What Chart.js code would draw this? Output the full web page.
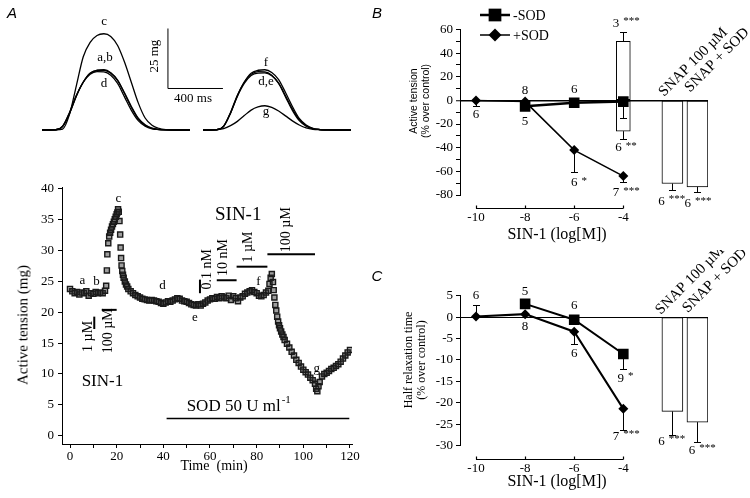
<!DOCTYPE html>
<html>
<head>
<meta charset="utf-8">
<title>SIN-1, SOD and twitch tension</title>
<script src="https://cdn.jsdelivr.net/npm/chart.js@4.4.1/dist/chart.umd.min.js"></script>
<style>
  html, body { margin: 0; padding: 0; background: #fff; }
  #fig { position: relative; width: 750px; height: 498px; overflow: hidden; color: #000;
         font-family: "Liberation Serif", "DejaVu Serif", serif; }
  #fig canvas { position: absolute; }
  .lbl { position: absolute; white-space: nowrap; line-height: 1; transform: translate(-50%, -50%); }
  .up { transform: translate(-50%, -50%) rotate(-90deg); }
  .panel { font: italic 15px "Liberation Sans", Arial, sans-serif; }
  .sans { font-family: "Liberation Sans", Arial, sans-serif; font-size: 10.5px; }
</style>
</head>
<body>
<div id="fig">
  <canvas id="traces" width="370" height="150" style="left:0px;top:0px"></canvas>
  <canvas id="tension" width="370" height="310" style="left:0px;top:170px"></canvas>
  <canvas id="panelB" width="380" height="250" style="left:370px;top:0px"></canvas>
  <canvas id="panelC" width="380" height="248" style="left:370px;top:250px"></canvas>

  <div class="lbl panel" style="left:12px;top:12px">A</div>
  <div class="lbl panel" style="left:377px;top:12px">B</div>
  <div class="lbl panel" style="left:377px;top:275px">C</div>

  <div class="lbl up" style="left:23px;top:325px;font-size:15px">Active tension (mg)</div>
  <div class="lbl" style="left:214px;top:466px;font-size:14px">Time&nbsp; (min)</div>

  <div class="lbl up sans" style="left:413px;top:101px">Active tension</div>
  <div class="lbl up sans" style="left:425px;top:101px">(% over control)</div>
  <div class="lbl" style="left:557px;top:234px;font-size:16px">SIN-1 (log[M])</div>

  <div class="lbl up" style="left:408px;top:360px;font-size:12px">Half relaxation time</div>
  <div class="lbl up" style="left:421px;top:360px;font-size:12px">(% over control)</div>
  <div class="lbl" style="left:557px;top:481px;font-size:16px">SIN-1 (log[M])</div>
</div>

<script>
// ---------- data ----------

// twitch records (mg), all sampled at the same times after the stimulus (ms)
const twitchTimeMs = [0, 100, 150, 200, 250, 300, 350, 400, 450, 500, 550, 600, 650, 700, 750, 800, 850, 900, 1000, 1076];
const twitchA = [0, 0.1, 1.5, 7.0, 14.3, 20.0, 23.7, 24.9, 25.1, 23.9, 20.8, 15.2, 9.4, 4.6, 2.0, 0.7, 0.2, 0.1, 0, 0];
const twitchB = [0, 0.1, 1.4, 6.8, 14.1, 19.9, 23.6, 24.8, 24.9, 23.7, 20.6, 15.5, 9.8, 4.9, 2.2, 0.8, 0.3, 0.1, 0, 0];
const twitchC = [0, 0.1, 0.4, 6.5, 18.5, 30.5, 36.5, 39.4, 40.1, 39.0, 35.2, 28.3, 19.8, 11.3, 5.0, 2.0, 0.7, 0.2, 0, 0];
const twitchD = [0, 0.1, 1.6, 7.3, 14.5, 19.9, 23.2, 24.3, 24.2, 22.8, 19.4, 13.8, 8.2, 3.9, 1.6, 0.5, 0.2, 0.1, 0, 0];
const twitchE = [0, 0.1, 1.5, 7.0, 14.0, 19.4, 22.7, 23.7, 23.8, 22.6, 19.5, 14.3, 8.8, 4.3, 1.8, 0.6, 0.2, 0.1, 0, 0];
const twitchF = [0, 0.1, 1.5, 7.0, 14.3, 20.0, 23.7, 24.9, 25.1, 24.0, 21.0, 15.6, 9.8, 4.8, 2.1, 0.7, 0.2, 0.1, 0, 0];
const twitchG = [0, 0.2, 0.6, 1.8, 3.6, 6.0, 8.3, 9.6, 10.1, 9.4, 7.9, 5.9, 3.8, 2.1, 0.9, 0.3, 0.1, 0, 0, 0];

// active tension during the experiment
const tensionTimeMin = [0, 1, 2, 3, 4, 5, 6, 7, 8, 9, 10, 11, 12, 13, 14, 15, 15.5, 15.8, 16, 16.4, 16.8, 17.2, 17.6,
  18, 18.4, 18.8, 19.2, 19.6, 20, 20.3, 20.6, 20.9, 21.2, 21.5, 21.7, 21.9, 22.1, 22.4, 22.7, 23, 23.5, 24, 24.5, 25,
  26, 27, 28, 29, 30, 31, 32, 33, 34, 35, 36, 37, 38, 39, 40, 41, 42, 43, 44, 45, 46, 47, 48, 49, 50, 51, 52, 53, 54,
  55, 56, 57, 58, 59, 60, 61, 62, 63, 64, 65, 66, 67, 68, 69, 70, 71, 72, 73, 74, 75, 76, 77, 78, 79, 80, 81, 82, 83,
  84, 85, 85.5, 86, 86.5, 87, 87.3, 87.6, 88, 88.4, 88.8, 89.2, 89.6, 90, 90.5, 91, 91.5, 92, 93, 94, 95, 96, 97, 98,
  99, 100, 101, 102, 103, 104, 105, 105.5, 106, 106.5, 107, 108, 109, 110, 111, 112, 113, 114, 115, 116, 117, 118, 119, 120];
const tensionMg = [23.8, 23.4, 23.1, 23.3, 22.9, 23.2, 23.1, 23.4, 22.7, 23.1, 23.0, 23.3, 23.1, 23.2, 23.1, 23.5, 24.3, 26.8, 29.4, 31.2, 32.3, 32.9, 33.4,
  33.9, 34.3, 34.7, 35.1, 35.5, 35.9, 36.2, 36.7, 36.3, 34.8, 32.6, 30.5, 28.8, 27.6, 26.7, 26.1, 25.6, 25.0, 24.5, 24.2, 23.8,
  23.4, 23.1, 22.8, 22.6, 22.4, 22.2, 22.1, 22.0, 21.9, 22.0, 21.9, 21.8, 21.7, 21.5, 21.4, 21.6, 21.8, 21.7, 21.9, 22.1, 22.3, 22.2, 21.9, 21.8, 21.7, 21.5, 21.3, 21.2, 21.1,
  21.3, 21.1, 21.4, 21.6, 21.9, 22.1, 22.3, 22.2, 22.5, 22.3, 22.6, 22.4, 22.3, 22.7, 22.0, 22.6, 22.3, 21.8, 22.4, 22.6, 23.0, 23.2, 23.4, 23.6, 23.3, 23.1, 22.7, 22.6, 22.8,
  23.2, 23.5, 24.6, 25.6, 26.2, 24.9, 23.6, 22.4, 21.2, 20.3, 19.3, 18.5, 17.9, 17.4, 16.9, 16.4, 16.0, 15.5, 14.9, 14.3, 13.6, 13.0, 12.3, 11.8,
  11.2, 10.7, 10.3, 9.9, 9.4, 9.0, 8.4, 7.6, 7.2, 8.0, 8.7, 9.6, 10.0, 10.2, 10.5, 10.8, 11.0, 11.3, 11.6, 12.0, 12.5, 13.0, 13.5, 13.9];
const timeTicks = [0, 10, 20, 30, 40, 50, 60, 70, 80, 90, 100, 110, 120];
const tensionTicks = [0, 5, 10, 15, 20, 25, 30, 35, 40];

// dose-response, SIN-1 log concentration
const logConc = [-10, -8, -6, -4];
const tensionNoSod = [null, -5, -2, -1];
const tensionNoSodErr = [0, 0, 0, -13.6];
const tensionSod = [0, -1, -42, -64];
const tensionSodErr = [-5, 0, -18.4, -5];
const highDoseSplit = [50, -26];          // 100 uM without SOD, n = 3 up and n = 6 down
const highDoseSplitErr = [8, -7];
const snapNames = ['SNAP 100 \u00b5M', 'SNAP + SOD'];
const snapTension = [-70.3, -73.1];
const snapTensionErr = [-5.6, -4.2];
const tensionPctTicks = [-80, -70, -60, -50, -40, -30, -20, -10, 0, 10, 20, 30, 40, 50, 60];

const relaxNoSod = [null, 3.1, -0.6, -8.6];
const relaxNoSodErr = [0, 0, 0, -3.5];
const relaxSod = [0.15, 0.7, -3.4, -21.4];
const relaxSodErr = [2.7, 0, -2.9, -4.9];
const snapRelax = [-22, -24.5];
const snapRelaxErr = [-5.5, -4.6];
const relaxTicks = [-30, -25, -20, -15, -10, -5, 0, 5];

// ---------- helpers ----------
const SERIF = '"Liberation Serif", "DejaVu Serif", serif';
Chart.defaults.font.family = SERIF;
Chart.defaults.color = '#000';

function pts(xs, ys) {
  return xs.map((x, i) => ({ x: x, y: ys[i] }));
}

// text labels placed in data units
function notes(items) {
  return {
    id: 'notes',
    afterDatasetsDraw(chart) {
      const { ctx, scales } = chart;
      items.forEach(n => {
        const size = n.size || 13;
        ctx.save();
        ctx.translate(scales.x.getPixelForValue(n.x), scales.y.getPixelForValue(n.y));
        if (n.rot) ctx.rotate(n.rot * Math.PI / 180);
        ctx.fillStyle = '#000';
        ctx.font = size + 'px ' + SERIF;
        ctx.textAlign = n.align || 'center';
        ctx.textBaseline = n.base || 'middle';
        ctx.fillText(n.text, 0, 0);
        const w = ctx.measureText(n.text).width;
        const end = ctx.textAlign === 'left' ? w : ctx.textAlign === 'right' ? 0 : w / 2;
        ctx.textAlign = 'left';
        if (n.stars) {
          ctx.font = '11px ' + SERIF;
          ctx.fillText(n.stars, end + 4, -2);
        }
        if (n.sup) {
          ctx.font = Math.round(size * 0.65) + 'px ' + SERIF;
          ctx.fillText(n.sup, end + 1, -size * 0.35);
        }
        ctx.restore();
      });
    }
  };
}

// straight strokes in data units (application bars, scale bar)
function strokes(items) {
  return {
    id: 'strokes',
    afterDatasetsDraw(chart) {
      const { ctx, scales: { x, y } } = chart;
      ctx.save();
      ctx.strokeStyle = '#000';
      items.forEach(s => {
        ctx.lineWidth = s.w || 2;
        ctx.beginPath();
        s.pts.forEach((p, i) => {
          const px = x.getPixelForValue(p[0]), py = y.getPixelForValue(p[1]);
          if (i) ctx.lineTo(px, py); else ctx.moveTo(px, py);
        });
        ctx.stroke();
      });
      ctx.restore();
    }
  };
}

// one-sided error bars read from dataset.errors
const errorBars = {
  id: 'errorBars',
  afterDatasetsDraw(chart) {
    const { ctx } = chart;
    const ys = chart.scales.y;
    chart.data.datasets.forEach((ds, i) => {
      if (!ds.errors) return;
      const meta = chart.getDatasetMeta(i);
      meta.data.forEach((el, j) => {
        const e = ds.errors[j];
        const v = ds.data[j] ? ds.data[j].y : null;
        if (!e || v == null) return;
        const px = Math.round(el.x) + 0.5;
        const y0 = ys.getPixelForValue(v), y1 = Math.round(ys.getPixelForValue(v + e)) + 0.5;
        ctx.save();
        ctx.strokeStyle = '#000';
        ctx.lineWidth = 1;
        ctx.beginPath();
        ctx.moveTo(px, y0);
        ctx.lineTo(px, y1);
        ctx.moveTo(px - 3.5, y1);
        ctx.lineTo(px + 3.5, y1);
        ctx.stroke();
        ctx.restore();
      });
    });
  }
};

// x axis line only from the first to the last concentration
const concAxis = {
  id: 'concAxis',
  afterDatasetsDraw(chart) {
    const ctx = chart.ctx;
    const xs = chart.scales.x;
    const yy = Math.round(chart.chartArea.bottom + 13) + 0.5;
    const x0 = xs.getPixelForValue(logConc[0]);
    const x1 = xs.getPixelForValue(logConc[logConc.length - 1]);
    ctx.save();
    ctx.strokeStyle = '#000';
    ctx.lineWidth = 1.2;
    ctx.beginPath();
    ctx.moveTo(x0, yy);
    ctx.lineTo(x1, yy);
    for (let i = 0; i < logConc.length; i++) {
      const px = Math.round(xs.getPixelForValue(logConc[i])) + 0.5;
      ctx.moveTo(px, yy);
      ctx.lineTo(px, yy - 3);
    }
    ctx.stroke();
    ctx.restore();
  }
};

const legendB = {
  id: 'legendB',
  afterDraw(chart) {
    const ctx = chart.ctx;
    [0, 1].forEach(i => {
      const ds = chart.data.datasets[i];
      const y = 15 + i * 20;
      ctx.save();
      ctx.strokeStyle = '#000';
      ctx.fillStyle = '#000';
      ctx.lineWidth = ds.borderWidth;
      ctx.beginPath();
      ctx.moveTo(110, y);
      ctx.lineTo(140, y);
      ctx.stroke();
      Chart.helpers.drawPoint(ctx, { pointStyle: ds.pointStyle, radius: ds.pointRadius + 1.5, borderWidth: 0, rotation: 0 }, 125, y);
      ctx.font = '14px ' + SERIF;
      ctx.textAlign = 'left';
      ctx.textBaseline = 'middle';
      ctx.fillText(ds.label, 143, y + 1);
      ctx.restore();
    });
  }
};

const baseOptions = {
  responsive: false,
  animation: false,
  events: [],
  devicePixelRatio: 1,
  plugins: { legend: { display: false }, tooltip: { enabled: false } }
};

// ---------- A: twitch records ----------
const rightGroupMs = 1171;   // horizontal offset of the second group of records
const scaleBarAt = [916, 17.3];

function trace(values, offset) {
  return {
    data: twitchTimeMs.map((t, i) => ({ x: t + offset, y: values[i] })),
    borderColor: '#000', borderWidth: 1.3, pointRadius: 0,
    cubicInterpolationMode: 'monotone', fill: false
  };
}

new Chart(document.getElementById('traces'), {
  type: 'line',
  data: {
    datasets: [twitchA, twitchB, twitchC, twitchD].map(v => trace(v, 0))
      .concat([twitchD, twitchE, twitchF, twitchG].map(v => trace(v, rightGroupMs)))
  },
  options: Object.assign({}, baseOptions, {
    layout: { autoPadding: false, padding: 0 },
    scales: {
      x: { type: 'linear', display: false, min: -305.5, max: 2385.5 },
      y: { display: false, min: -8.33, max: 54.17 }
    }
  }),
  plugins: [
    strokes([{ w: 1, pts: [[scaleBarAt[0], scaleBarAt[1] + 25], scaleBarAt, [scaleBarAt[0] + 400, scaleBarAt[1]]] }]),
    notes([
      { text: 'c', x: 451, y: 45.0 },
      { text: 'a,b', x: 458, y: 30.0 },
      { text: 'd', x: 451, y: 19.2 },
      { text: 'f', x: 1629, y: 27.9 },
      { text: 'd,e', x: 1629, y: 20.0 },
      { text: 'g', x: 1629, y: 7.5 },
      { text: '25 mg', x: 822, y: 30.8, rot: -90 },
      { text: '400 ms', x: 1098, y: 12.9 }
    ])
  ]
});

// ---------- A: time course ----------
new Chart(document.getElementById('tension'), {
  type: 'scatter',
  data: {
    datasets: [{
      data: pts(tensionTimeMin, tensionMg),
      pointStyle: 'rect', pointRadius: 3.6, pointBorderWidth: 1.4,
      pointBorderColor: '#1a1a1a', pointBackgroundColor: 'rgba(40,40,40,0.45)'
    }]
  },
  options: Object.assign({}, baseOptions, {
    layout: { autoPadding: false, padding: { left: 0, right: 18, top: 17, bottom: 0 } },
    scales: {
      x: {
        type: 'linear', min: -3.43, max: 120.86,
        afterFit: s => { s.height = 36; },
        afterBuildTicks: s => { s.ticks = timeTicks.map(v => ({ value: v })); },
        grid: { drawOnChartArea: false, tickLength: 4, color: '#000' },
        border: { color: '#000' },
        ticks: { font: { size: 13 }, padding: 1, autoSkip: false, maxRotation: 0,
                 callback: v => (v % 20 === 0 ? String(v) : '') }
      },
      y: {
        min: -1.35, max: 40.32,
        afterFit: s => { s.width = 62; },
        afterBuildTicks: s => { s.ticks = tensionTicks.map(v => ({ value: v })); },
        grid: { drawOnChartArea: false, tickLength: 4, color: '#000' },
        border: { color: '#000' },
        ticks: { font: { size: 13 }, padding: 4, autoSkip: false }
      }
    }
  }),
  plugins: [
    // SIN-1 and SOD application bars (min, mg level)
    strokes([
      { pts: [[10.4, 19.3], [10.4, 17.3]] },
      { pts: [[13.6, 20.4], [20, 20.4]] },
      { pts: [[55.7, 25.3], [55.7, 23.1]] },
      { pts: [[62.9, 25.2], [71.4, 25.2]] },
      { pts: [[71.4, 27.4], [84.6, 27.4]] },
      { pts: [[84.6, 29.4], [105, 29.4]] },
      { w: 1.5, pts: [[41.4, 2.8], [119.7, 2.8]] }
    ]),
    notes([
      { text: 'a', x: 5.3, y: 25.2 },
      { text: 'b', x: 11.4, y: 25.0 },
      { text: 'c', x: 20.7, y: 38.5 },
      { text: 'd', x: 39.6, y: 24.3 },
      { text: 'e', x: 53.5, y: 19.2 },
      { text: 'f', x: 80.7, y: 25.0 },
      { text: 'g', x: 105.7, y: 10.9 },
      { text: '1 \u00b5M', x: 7.7, y: 16.1, rot: -90, size: 14 },
      { text: '100 \u00b5M', x: 16.5, y: 17.0, rot: -90, size: 14 },
      { text: '0.1 nM', x: 58.9, y: 27.0, rot: -90, size: 14 },
      { text: '10 nM', x: 65.9, y: 28.9, rot: -90, size: 14 },
      { text: '1 \u00b5M', x: 76.6, y: 30.6, rot: -90, size: 14 },
      { text: '100 \u00b5M', x: 92.6, y: 33.4, rot: -90, size: 14 },
      { text: 'SIN-1', x: 13.9, y: 8.8, size: 17 },
      { text: 'SIN-1', x: 72.1, y: 35.8, size: 19 },
      { text: 'SOD 50 U ml', sup: '-1', x: 50.0, y: 4.8, size: 17, align: 'left' }
    ])
  ]
});

// ---------- B and C: dose-response ----------
const snapSlot = [-2.0, -0.98];   // where the SNAP bars sit on the log axis
const barStyle = { type: 'bar', backgroundColor: '#fff', borderColor: '#000', borderWidth: 1,
                   borderSkipped: false, grouped: false, order: 1 };

function lineSet(label, values, errors, width, style, radius) {
  return {
    label: label, data: pts(logConc, values), errors: errors,
    borderColor: '#000', borderWidth: width, tension: 0, fill: false, spanGaps: false,
    pointStyle: style, pointRadius: radius, pointBackgroundColor: '#000',
    pointBorderColor: '#000', pointBorderWidth: 0, order: 0
  };
}

function doseChart(id, cfg) {
  return new Chart(document.getElementById(id), {
    type: 'line',
    data: { datasets: cfg.datasets },
    options: Object.assign({}, baseOptions, {
      layout: { autoPadding: false, padding: { left: 0, right: 42, top: cfg.top, bottom: 0 } },
      scales: {
        x: {
          type: 'linear', min: -10.652, max: -0.55, offset: false,
          afterFit: s => { s.height = cfg.xHeight; },
          afterBuildTicks: s => { s.ticks = logConc.map(v => ({ value: v })); },
          grid: { display: false, drawTicks: false }, border: { display: false },
          ticks: { padding: 15, font: { size: 13 }, autoSkip: false, maxRotation: 0 }
        },
        y: {
          min: cfg.min, max: cfg.max,
          afterFit: s => { s.width = 90; },
          afterBuildTicks: s => { s.ticks = cfg.ticks.map(v => ({ value: v })); },
          grid: {
            color: c => (c.tick && c.tick.value === 0 ? '#000' : 'rgba(0,0,0,0)'),
            lineWidth: c => (c.tick && c.tick.value === 0 ? cfg.zeroWidth : 1),
            tickColor: '#000', tickLength: 4, tickWidth: 1
          },
          border: { color: '#000', width: 1 },
          ticks: { padding: 3, font: { size: 13 }, autoSkip: false, callback: cfg.tickLabel }
        }
      }
    }),
    plugins: [concAxis, errorBars, notes(cfg.notes)].concat(cfg.extra || [])
  });
}

doseChart('panelB', {
  top: 29.5, xHeight: 55, min: -80, max: 60, zeroWidth: 1.5,
  ticks: tensionPctTicks,
  tickLabel: v => (v % 20 === 0 ? String(v) : ''),
  datasets: [
    lineSet('-SOD', tensionNoSod, tensionNoSodErr, 2.5, 'rect', 7.5),
    lineSet('+SOD', tensionSod, tensionSodErr, 1.5, 'rectRot', 5),
    Object.assign({}, barStyle, { data: highDoseSplit.map(v => ({ x: logConc[3], y: v })), errors: highDoseSplitErr, barThickness: 14 }),
    Object.assign({}, barStyle, { data: pts(snapSlot, snapTension), errors: snapTensionErr, barThickness: 21 })
  ],
  notes: [
    { text: '6', x: -10, y: -12.3 },
    { text: '8', x: -8, y: 8 },
    { text: '5', x: -8, y: -18.2 },
    { text: '6', x: -6, y: 8.9 },
    { text: '6', stars: '*', x: -6, y: -69.7 },
    { text: '3', stars: '***', x: -4.3, y: 65.3 },
    { text: '6', stars: '**', x: -4.2, y: -40.2 },
    { text: '7', stars: '***', x: -4.3, y: -78.2 },
    { text: '6', stars: '***', x: -2.44, y: -85.5 },
    { text: '6', stars: '***', x: -1.37, y: -86.9 },
    { text: snapNames[0], x: -2.34, y: 3.0, rot: -45, align: 'left', base: 'alphabetic', size: 15 },
    { text: snapNames[1], x: -1.28, y: 6.5, rot: -45, align: 'left', base: 'alphabetic', size: 15 }
  ],
  extra: [legendB]
});

doseChart('panelC', {
  top: 45.7, xHeight: 52.3, min: -30, max: 5, zeroWidth: 1,
  ticks: relaxTicks,
  tickLabel: v => String(v),
  datasets: [
    lineSet('-SOD', relaxNoSod, relaxNoSodErr, 2, 'rect', 7.5),
    lineSet('+SOD', relaxSod, relaxSodErr, 2, 'rectRot', 5),
    Object.assign({}, barStyle, { data: pts(snapSlot, snapRelax), errors: snapRelaxErr, barThickness: 21 })
  ],
  notes: [
    { text: '6', x: -10, y: 5.0 },
    { text: '5', x: -8, y: 5.9 },
    { text: '8', x: -8, y: -2.2 },
    { text: '6', x: -6, y: 2.8 },
    { text: '6', x: -6, y: -8.6 },
    { text: '9', stars: '*', x: -4.1, y: -14.3 },
    { text: '7', stars: '***', x: -4.3, y: -27.8 },
    { text: '6', stars: '***', x: -2.44, y: -29.0 },
    { text: '6', stars: '***', x: -1.2, y: -31.1 },
    { text: snapNames[0], x: -2.47, y: 0.5, rot: -45, align: 'left', base: 'alphabetic', size: 15 },
    { text: snapNames[1], x: -1.37, y: 0.9, rot: -45, align: 'left', base: 'alphabetic', size: 15 }
  ]
});
</script>
</body>
</html>
